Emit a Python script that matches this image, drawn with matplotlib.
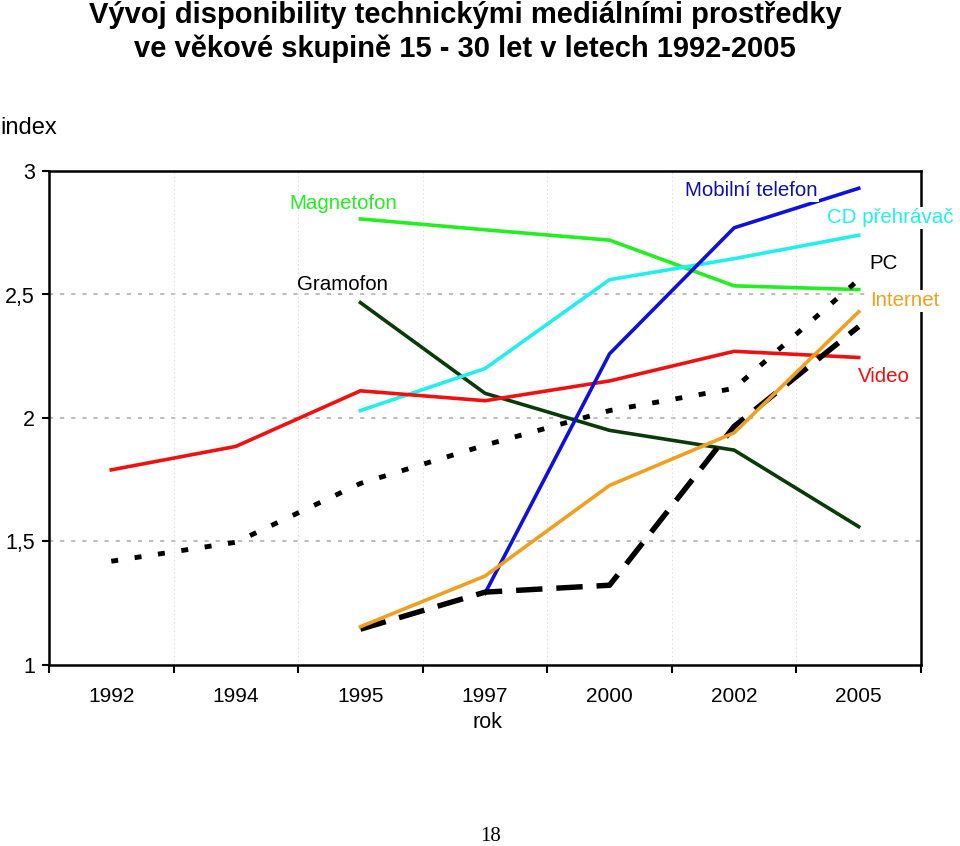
import matplotlib
matplotlib.use("Agg")
import matplotlib.pyplot as plt
import numpy as np

plt.rcParams['font.family'] = ['Liberation Sans', 'DejaVu Sans']
plt.rcParams['lines.scale_dashes'] = False

years = ["1992", "1994", "1995", "1997", "2000", "2002", "2005"]
yticks = [1, 1.5, 2, 2.5, 3]
ytick_labels = ["1", "1,5", "2", "2,5", "3"]

# values (None = no data)
video = [1.79, 1.885, 2.11, 2.07, 2.15, 2.27, 2.245]
dotted_black = [1.42, 1.497, 1.735, 1.89, 2.03, 2.12, 2.56]
magnetofon = [None, None, 2.806, 2.762, 2.72, 2.535, 2.52]
gramofon = [None, None, 2.467, 2.10, 1.95, 1.87, 1.56]
cd = [None, None, 2.03, 2.20, 2.56, 2.645, 2.74]
mobil = [None, None, None, 1.29, 2.26, 2.77, 2.93]
internet = [None, None, 1.155, 1.36, 1.727, 1.94, 2.43]
pc = [None, None, 1.145, 1.295, 1.323, 1.966, 2.37]

fig = plt.figure(figsize=(9.6, 8.46), dpi=100)
ax = fig.add_axes([49/960, (846-665)/846, (921-49)/960, (665-171)/846])

x = np.arange(len(years))

def arr(v):
    return np.array([np.nan if a is None else a for a in v], dtype=float)

lw = 2.6
ax.plot(x, arr(magnetofon), color='#22EE22', lw=lw, zorder=3)
ax.plot(x, arr(gramofon), color='#0A3A0A', lw=lw, zorder=3)
ax.plot(x, arr(cd), color='#22EEEE', lw=lw, zorder=3)
ax.plot(x, arr(video), color='#EE1111', lw=lw, zorder=3)
ax.plot(x, arr(mobil), color='#1010DD', lw=lw, zorder=3)
ax.plot(x, arr(internet), color='#F0A020', lw=lw, zorder=4)
ax.plot(x, arr(dotted_black), color='black', lw=lw*1.35, dashes=(5, 12), zorder=4)
ax.plot(x, arr(pc), color='black', lw=lw*1.5, dashes=(19, 10), zorder=3.5)

ax.set_xlim(-0.5, 6.5)
ax.set_ylim(1, 3)

# y axis
ax.set_yticks(yticks)
ax.set_yticklabels(ytick_labels, fontsize=15.5)
ax.tick_params(axis='y', direction='out', length=5, width=1.5, pad=5)

# x axis: tick marks at boundaries, labels at centers
ax.set_xticks(np.arange(-0.5, 7, 1))
ax.set_xticklabels([])
ax.tick_params(axis='x', which='major', direction='out', length=6, width=1.5)
ax.set_xticks(x, minor=True)
ax.set_xticklabels(years, minor=True, fontsize=15)
ax.tick_params(axis='x', which='minor', length=0, pad=16)

for s in ax.spines.values():
    s.set_linewidth(1.8)
    s.set_color('black')

# grids
for yv in [1.5, 2, 2.5, 3]:
    ax.axhline(yv, color='#b0b0b0', lw=1.2, dashes=(3, 5), zorder=1)
for xv in np.arange(0.5, 6.5, 1):
    ax.axvline(xv, color='#dddddd', lw=0.8, dashes=(1, 2), zorder=1)

# labels on lines
bb = dict(facecolor='white', edgecolor='none', pad=1)
fs = 14.8
ax.text(1.86, 2.87, "Magnetofon", color='#22EE22', fontsize=fs, ha='center', va='center', zorder=6)
ax.text(1.86, 2.54, "Gramofon", color='black', fontsize=fs, ha='center', va='center', zorder=6)
ax.text(5.14, 2.92, "Mobilní telefon", color='#1010AA', fontsize=fs, ha='center', va='center',
        bbox=bb, zorder=6)
ax.text(6.25, 2.81, "CD přehrávač", color='#22EEEE', fontsize=fs, ha='center', va='center',
        bbox=bb, zorder=6, clip_on=False)
ax.text(6.2, 2.625, "PC", color='black', fontsize=fs, ha='center', va='center',
        bbox=bb, zorder=6, clip_on=False)
ax.text(6.37, 2.475, "Internet", color='#F0A020', fontsize=fs, ha='center', va='center',
        bbox=bb, zorder=6, clip_on=False)
ax.text(6.2, 2.17, "Video", color='#EE1111', fontsize=fs, ha='center', va='center',
        bbox=bb, zorder=6, clip_on=False)

# titles and axis labels
fig.text(465/960, 1 - 15/846, "Vývoj disponibility technickými mediálními prostředky",
         fontsize=21, fontweight='bold', ha='center', va='center')
fig.text(465/960, 1 - 49/846, "ve věkové skupině 15 - 30 let v letech 1992-2005",
         fontsize=21, fontweight='bold', ha='center', va='center')
fig.text(0/960, 1 - 128/846, "index", fontsize=17, ha='left', va='center')
fig.text(487/960, 1 - 722/846, "rok", fontsize=15.5, ha='center', va='center')
fig.text(491/960, 1 - 836/846, "18", fontsize=15, ha='center', va='center',
         family=['Liberation Serif', 'DejaVu Serif'])

fig.savefig("out.png", dpi=100)
